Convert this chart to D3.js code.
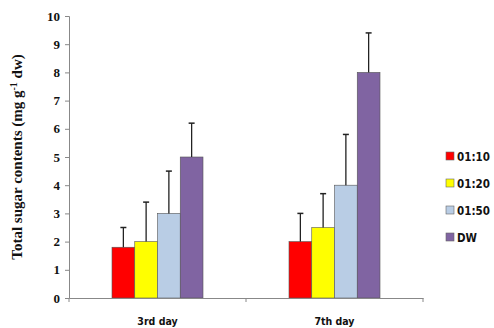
<!DOCTYPE html>
<html>
<head>
<meta charset="utf-8">
<script src="https://cdn.jsdelivr.net/npm/d3@7"></script>
<style>
  body { margin: 0; background: #fff; }
</style>
</head>
<body>
<div id="chart"></div>
<script>
const days = ["3rd day", "7th day"];
const series = ["01:10", "01:20", "01:50", "DW"];
const colors = ["#ff0000", "#ffff00", "#b9cde5", "#8064a2"];
const means = {
  "01:10": [1.8, 2.0],
  "01:20": [2.0, 2.5],
  "01:50": [3.0, 4.0],
  "DW": [5.0, 8.0]
};
const errTops = {
  "01:10": [2.5, 3.0],
  "01:20": [3.4, 3.7],
  "01:50": [4.5, 5.8],
  "DW": [6.2, 9.4]
};
const yTicks = [0, 1, 2, 3, 4, 5, 6, 7, 8, 9, 10];

const width = 494, height = 328;
const margin = { left: 69, right: 71, top: 16, bottom: 30 };

const svg = d3.select("#chart").append("svg")
  .attr("width", width)
  .attr("height", height);

const x0 = d3.scaleBand()
  .domain(days)
  .range([margin.left, width - margin.right])
  .paddingInner(0)
  .paddingOuter(0);

const groupW = 91;
const x1 = d3.scaleBand()
  .domain(series)
  .range([0, groupW]);

const y = d3.scaleLinear()
  .domain([0, 10])
  .range([height - margin.bottom, margin.top]);

// bars
days.forEach((day, di) => {
  const gx = x0(day) + (x0.bandwidth() - groupW) / 2;
  series.forEach((s, si) => {
    const bx = gx + x1(s);
    const v = means[s][di];
    svg.append("rect")
      .attr("x", bx)
      .attr("y", y(v))
      .attr("width", x1.bandwidth())
      .attr("height", y(0) - y(v))
      .attr("fill", colors[si])
      .attr("stroke", "#555")
      .attr("stroke-width", 0.6);
    const cx = bx + x1.bandwidth() / 2;
    svg.append("line")
      .attr("x1", cx).attr("x2", cx)
      .attr("y1", y(v)).attr("y2", y(errTops[s][di]))
      .attr("stroke", "#222").attr("stroke-width", 1.3);
    svg.append("line")
      .attr("x1", cx - 3).attr("x2", cx + 3)
      .attr("y1", y(errTops[s][di])).attr("y2", y(errTops[s][di]))
      .attr("stroke", "#222").attr("stroke-width", 1.5);
  });
});

// y axis
const yAxis = svg.append("g")
  .attr("transform", `translate(${margin.left},0)`)
  .call(d3.axisLeft(y).tickValues(yTicks).tickSize(4).tickFormat(d3.format("d")));
yAxis.select(".domain").attr("stroke", "#888");
yAxis.selectAll(".tick line").attr("stroke", "#888");
yAxis.selectAll("text")
  .attr("font-family", "Liberation Serif")
  .attr("font-weight", "bold")
  .attr("font-size", 13)
  .attr("fill", "#111")
  .attr("x", -9);

// x axis
const xAxis = svg.append("g")
  .attr("transform", `translate(0,${y(0)})`)
  .call(d3.axisBottom(x0).tickSize(0).tickFormat(""));
xAxis.select(".domain").attr("stroke", "#888");
const xEdges = [x0(days[0]), x0(days[1]), x0(days[1]) + x0.bandwidth()];
xAxis.selectAll(".edge").data(xEdges).enter().append("line")
  .attr("x1", d => d).attr("x2", d => d)
  .attr("y1", 0).attr("y2", 4)
  .attr("stroke", "#888");
xAxis.selectAll(".lbl").data(days).enter().append("text")
  .attr("x", d => x0(d) + x0.bandwidth() / 2)
  .attr("y", 27)
  .attr("text-anchor", "middle")
  .attr("font-family", "DejaVu Sans Condensed, DejaVu Sans")
  .attr("font-weight", "bold")
  .attr("font-size", 10.5)
  .attr("fill", "#111")
  .text(d => d);

// y title
const title = svg.append("text")
  .attr("transform", `translate(22,${(margin.top + y(0)) / 2}) rotate(-90)`)
  .attr("text-anchor", "middle")
  .attr("font-family", "Liberation Serif")
  .attr("font-weight", "bold")
  .attr("font-size", 15)
  .attr("fill", "#111");
title.append("tspan").text("Total sugar contents (mg g");
title.append("tspan").attr("baseline-shift", "super").attr("font-size", 10).text("-1");
title.append("tspan").text(" dw)");

// legend
const legend = svg.append("g").attr("transform", "translate(446,156)");
series.forEach((s, i) => {
  const row = legend.append("g").attr("transform", `translate(0,${i * 27})`);
  row.append("rect")
    .attr("x", 0).attr("y", -4)
    .attr("width", 8).attr("height", 8)
    .attr("fill", colors[i])
    .attr("stroke", "#666").attr("stroke-width", 0.6);
  row.append("text")
    .attr("x", 11).attr("y", 4.5)
    .attr("font-family", "DejaVu Sans Condensed, DejaVu Sans")
    .attr("font-weight", "bold")
    .attr("font-size", 11.5)
    .attr("fill", "#111")
    .text(s);
});
</script>
</body>
</html>
